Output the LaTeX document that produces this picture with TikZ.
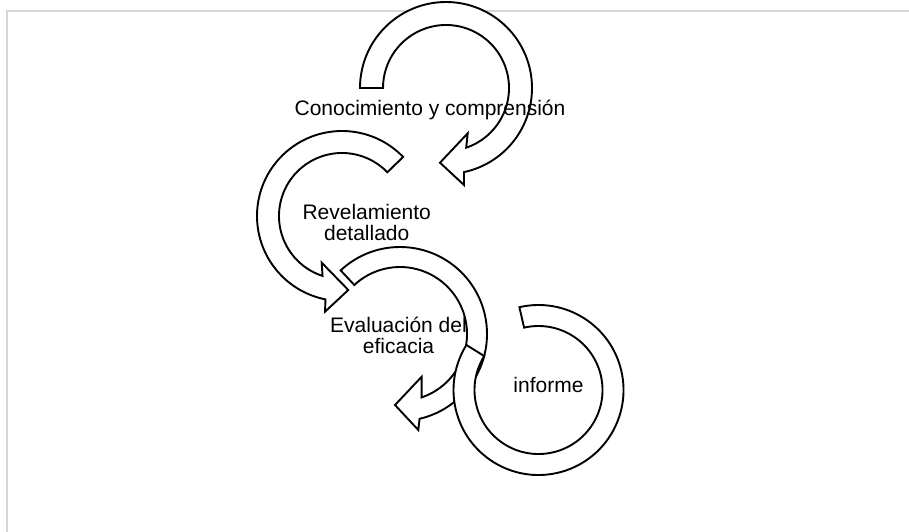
\documentclass[tikz,border=0pt]{standalone}
\usepackage{fontspec}
\setmainfont{Liberation Sans}
\usetikzlibrary{calc}
\definecolor{framegray}{RGB}{214,214,214}
\begin{document}
\begin{tikzpicture}[x=1pt,y=1pt,yscale=-1,
  shp/.style={draw=black, fill=white, line width=1.9pt, line join=miter},
  lbl/.style={font=\fontsize{21}{21}\selectfont, align=center, anchor=base, inner sep=0pt},
  framestyle/.style={draw=framegray, line width=2pt}]
\useasboundingbox (0,0) rectangle (909,531);
% frame
\coordinate (fa) at (6.5,545);
\coordinate (fb) at (6.5,10.5);
\coordinate (fc) at (925,10.5);
\draw[framestyle] (fa) -- (fb) -- (fc);
% centres
\coordinate (c1) at (446,88);
\coordinate (c2) at (342,216);
\coordinate (c3) at (400,334);
\coordinate (c4) at (538.5,390);
% shape 1: Conocimiento y comprension
\draw[shp] ($(c1)+(180:86)$) arc[start angle=180, end angle=437.9, radius=86]
  -- (464,185) -- (440,162.7) -- (467.7,133.3)
  -- ($(c1)+(431.3:63)$) arc[start angle=431.3, end angle=180, radius=63] -- cycle;
% shape 2: Revelamiento detallado
\draw[shp] ($(c2)+(-44:85)$) arc[start angle=-44, end angle=-258.8, radius=85]
  -- (325,311.7) -- (348.3,290) -- (321.7,262.7)
  -- ($(c2)+(-252:63)$) arc[start angle=-252, end angle=-44, radius=63] -- cycle;
% shape 3: Evaluacion del eficacia
\draw[shp] ($(c3)+(-133:87)$) arc[start angle=-133, end angle=77, radius=87]
  -- (418.3,430) -- (395,405) -- (421.7,376.7)
  -- ($(c3)+(71.2:67)$) arc[start angle=71.2, end angle=-133, radius=67] -- cycle;
% shape 4: informe
\draw[shp] ($(c4)+(-103:85)$) arc[start angle=-103, end angle=212, radius=85]
  -- ($(c4)+(212:64)$) arc[start angle=212, end angle=-103, radius=64] -- cycle;
% labels
\node[lbl] (t1) at (430,115) {Conocimiento y comprensión};
\node[lbl] (t2) at (366.7,240) {Revelamiento\\detallado};
\node[lbl] (t3) at (398.5,353) {Evaluación del\\eficacia};
\node[lbl] (t4) at (548.5,392) {informe};
\end{tikzpicture}
\end{document}
